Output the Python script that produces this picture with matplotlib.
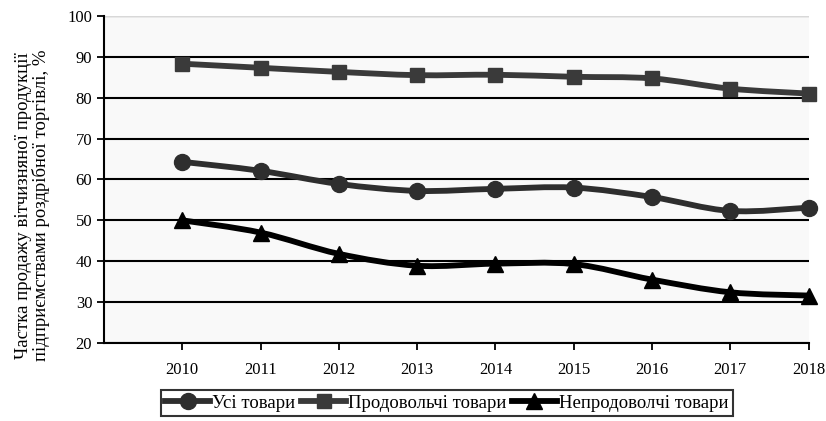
import numpy as np
import matplotlib
matplotlib.use("Agg")
import matplotlib.pyplot as plt
from matplotlib.path import Path
from matplotlib.patches import PathPatch
from matplotlib.lines import Line2D

years = [2010, 2011, 2012, 2013, 2014, 2015, 2016, 2017, 2018]
all_goods = [64.3, 62.1, 58.9, 57.2, 57.7, 58.0, 55.7, 52.3, 53.1]
food_goods = [88.3, 87.3, 86.3, 85.5, 85.6, 85.1, 84.7, 82.2, 81.0]
nonfood_goods = [50.0, 47.0, 41.8, 38.9, 39.4, 39.3, 35.5, 32.4, 31.6]

labels = ["Усі товари", "Продовольчі товари", "Непродоволчі товари"]
ylabel = "Частка продажу вітчизняної продукції\nпідприємствами роздрібної торгівлі, %"

plt.rcParams["font.family"] = ["Liberation Serif", "DejaVu Serif"]


def smooth_path(x, y, t=1 / 6):
    # Catmull-Rom style bezier through the points (Excel "smoothed line")
    x = np.asarray(x, float)
    y = np.asarray(y, float)
    verts = [(x[0], y[0])]
    codes = [Path.MOVETO]
    n = len(x)
    for i in range(n - 1):
        p0 = (x[max(i - 1, 0)], y[max(i - 1, 0)])
        p1 = (x[i], y[i])
        p2 = (x[i + 1], y[i + 1])
        p3 = (x[min(i + 2, n - 1)], y[min(i + 2, n - 1)])
        c1 = (p1[0] + (p2[0] - p0[0]) * t, p1[1] + (p2[1] - p0[1]) * t)
        c2 = (p2[0] - (p3[0] - p1[0]) * t, p2[1] - (p3[1] - p1[1]) * t)
        verts += [c1, c2, p2]
        codes += [Path.CURVE4] * 3
    return Path(verts, codes)


fig = plt.figure(figsize=(8.26, 4.21), dpi=100)
ax = fig.add_axes([0.1259, 0.1853, 0.853, 0.777])
ax.set_facecolor("#f9f9f9")

series = [
    (all_goods, "o", "#2e2e2e", 11.5),
    (food_goods, "s", "#3a3a3a", 10),
    (nonfood_goods, "^", "#000000", 12),
]
handles = []
for (vals, mk, col, ms), lab in zip(series, labels):
    ax.add_patch(PathPatch(smooth_path(years, vals), fill=False, edgecolor=col,
                           lw=4.2, capstyle="round", joinstyle="round", zorder=3,
                           clip_on=False))
    ax.plot(years, vals, linestyle="none", marker=mk, ms=ms, color=col, zorder=4,
            clip_on=False)
    handles.append(Line2D([], [], color=col, lw=4.2, marker=mk, ms=ms, label=lab))

ax.set_xlim(2009, 2018)
ax.set_ylim(20, 100)
ax.set_xticks(years)
ax.set_yticks(range(20, 101, 10))
ax.yaxis.grid(True, color="black", lw=1.5)
ax.set_axisbelow(True)
ax.tick_params(axis="both", labelsize=12, direction="out", length=5, width=1.3,
               color="black")
ax.tick_params(axis="x", pad=9)
for s in ["top", "right"]:
    ax.spines[s].set_visible(False)
ax.spines["left"].set_linewidth(1.5)
ax.spines["bottom"].set_linewidth(1.5)
ax.axhline(100, color="#d8d8d8", lw=1)
ax.set_ylabel(ylabel, fontsize=13.5, linespacing=1.0, va="center")
ax.yaxis.set_label_coords(-0.101, 0.42)

leg = fig.legend(handles=handles, loc="upper center", bbox_to_anchor=(0.541, 0.074),
                 ncol=3, fontsize=13.5, frameon=True, fancybox=False,
                 handlelength=2.4, handletextpad=0.1, columnspacing=0.3,
                 borderpad=0.25, borderaxespad=0)
leg.get_frame().set_edgecolor("black")
leg.get_frame().set_linewidth(1.5)

fig.savefig("out.png", dpi=100)
